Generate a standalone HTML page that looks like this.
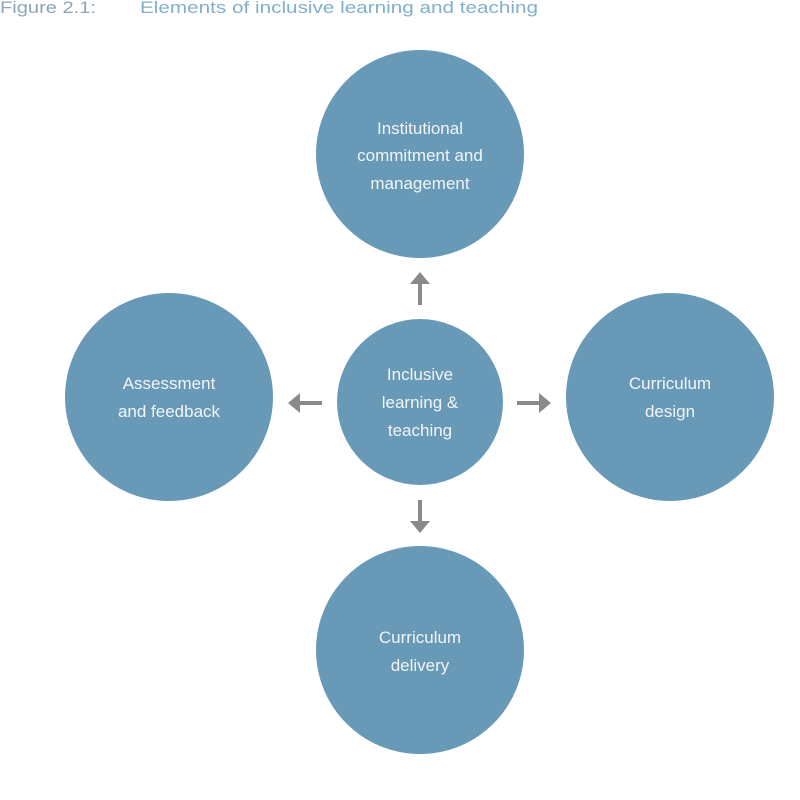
<!DOCTYPE html>
<html><head><meta charset="utf-8"><style>
html,body{margin:0;padding:0;background:#fff;width:800px;height:800px;overflow:hidden}
</style></head><body>
<svg width="800" height="800" viewBox="0 0 800 800" xmlns="http://www.w3.org/2000/svg" font-family="Liberation Sans, sans-serif">
<text x="0" y="13" font-size="17" fill="#8aa6b8" textLength="96" lengthAdjust="spacingAndGlyphs">Figure 2.1:</text>
<text x="140" y="13" font-size="17" fill="#7fb0cc" textLength="398" lengthAdjust="spacingAndGlyphs">Elements of inclusive learning and teaching</text>
<g fill="#6899b7">
<circle cx="420" cy="154" r="104"/>
<circle cx="169" cy="397" r="104"/>
<circle cx="670" cy="397" r="104"/>
<circle cx="420" cy="650" r="104"/>
<circle cx="420" cy="402" r="83"/>
</g>
<g fill="#8a8a8a" stroke="#8a8a8a">
<line x1="420" y1="305" x2="420" y2="282" stroke-width="4"/>
<polygon points="410,284 430,284 420,272" stroke="none"/>
<line x1="420" y1="500" x2="420" y2="523" stroke-width="4"/>
<polygon points="410,521 430,521 420,533" stroke="none"/>
<line x1="322" y1="403" x2="298" y2="403" stroke-width="4"/>
<polygon points="300,393 300,413 288,403" stroke="none"/>
<line x1="517" y1="403" x2="541" y2="403" stroke-width="4"/>
<polygon points="539,393 539,413 551,403" stroke="none"/>
</g>
<g fill="#f2f5f7" font-size="17" text-anchor="middle">
<text x="420" y="134">Institutional</text>
<text x="420" y="161">commitment and</text>
<text x="420" y="189">management</text>
<text x="169" y="389">Assessment</text>
<text x="169" y="417">and feedback</text>
<text x="670" y="389">Curriculum</text>
<text x="670" y="417">design</text>
<text x="420" y="643">Curriculum</text>
<text x="420" y="671">delivery</text>
<text x="420" y="380">Inclusive</text>
<text x="420" y="408">learning &amp;</text>
<text x="420" y="436">teaching</text>
</g>
</svg>
</body></html>
